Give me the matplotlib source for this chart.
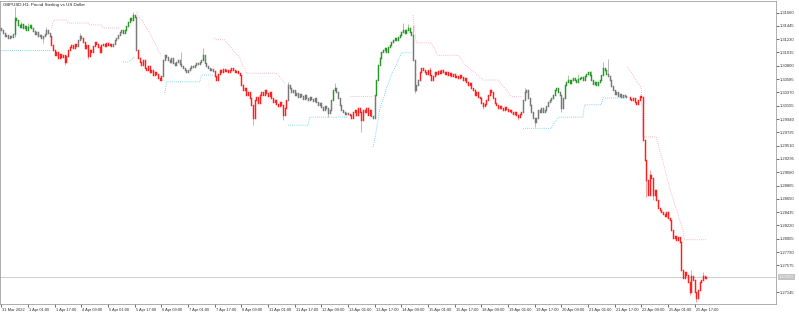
import matplotlib
matplotlib.use("Agg")
import matplotlib.pyplot as plt
import matplotlib.transforms as mtransforms
import numpy as np

title = "GBPUSD,H1: Pound Sterling vs US Dollar"

first_open = 1.3141
close_prices = [
    # 31 Mar
    1.3138, 1.3133, 1.3128, 1.3130, 1.3125, 1.3128, 1.3126, 1.3131,
    1.3157, 1.3154,
    1.3146, 1.3143, 1.3147, 1.3141, 1.3144, 1.3138, 1.3143, 1.3146, 1.3141,
    1.3136, 1.3131, 1.3135, 1.3128, 1.3130, 1.3125, 1.3128, 1.3131, 1.3138, 1.3133, 1.3128,
    # 1 Apr
    1.3114, 1.3105, 1.3097, 1.3102, 1.3093, 1.3099, 1.3094, 1.3097, 1.3086, 1.3096,
    1.3105, 1.3110, 1.3114, 1.3109, 1.3115, 1.3112, 1.3122, 1.3128, 1.3125, 1.3118,
    1.3109, 1.3114, 1.3096, 1.3105, 1.3102, 1.3112, 1.3118, 1.3115, 1.3110, 1.3102,
    1.3114, 1.3115, 1.3112, 1.3117, 1.3114, 1.3115, 1.3112,
    1.3115, 1.3122, 1.3125, 1.3130, 1.3135, 1.3138,
    1.3133, 1.3138, 1.3144, 1.3151, 1.3157, 1.3154, 1.3162, 1.3159,
    1.3105,
    # 5 Apr
    1.3093, 1.3086, 1.3081, 1.3089, 1.3076, 1.3073, 1.3080, 1.3070, 1.3073, 1.3065,
    1.3070, 1.3067, 1.3060, 1.3057, 1.3063,
    1.3089, 1.3097, 1.3094, 1.3089, 1.3086, 1.3093, 1.3084, 1.3081, 1.3086, 1.3089,
    1.3083, 1.3080, 1.3076, 1.3073, 1.3070, 1.3073, 1.3076, 1.3080, 1.3078, 1.3081,
    1.3084, 1.3083, 1.3086, 1.3089, 1.3097, 1.3084, 1.3080, 1.3076, 1.3073, 1.3075, 1.3072,
    # 7 Apr
    1.3063, 1.3057, 1.3067, 1.3073, 1.3070, 1.3075, 1.3072, 1.3073, 1.3070, 1.3073,
    1.3076, 1.3073, 1.3070, 1.3072, 1.3068, 1.3065, 1.3049, 1.3041, 1.3044, 1.3033,
    1.3038, 1.3028, 1.3017, 1.2996, 1.3025, 1.3030, 1.3020, 1.3033, 1.3038, 1.3033,
    1.3041, 1.3036, 1.3031, 1.3038, 1.3028, 1.3021, 1.3025, 1.3018, 1.3015, 1.3021,
    1.3017, 1.3000, 1.3012, 1.3025,
    # 11 Apr
    1.3049, 1.3044, 1.3038, 1.3041, 1.3033, 1.3036, 1.3030, 1.3034, 1.3031, 1.3026,
    1.3033, 1.3028, 1.3025, 1.3030, 1.3026, 1.3023, 1.3028, 1.3021, 1.3017, 1.3020,
    1.3013, 1.3009, 1.3015, 1.3012, 1.3004, 1.3009, 1.3025, 1.3041, 1.3044, 1.3038,
    1.3028, 1.3017, 1.3009, 1.3005, 1.3002, 1.3004, 1.3002,
    1.3000, 1.2996, 1.3005, 1.3009, 1.3000, 1.3012, 1.3005, 1.2992, 1.3009, 1.3005,
    1.3012, 1.3000, 1.3009, 1.2999, 1.2996,
    # 13 Apr
    1.3033, 1.3057, 1.3081, 1.3093, 1.3102, 1.3105, 1.3109, 1.3102, 1.3110, 1.3114,
    1.3118, 1.3122, 1.3125, 1.3122, 1.3126, 1.3130, 1.3135, 1.3138, 1.3133, 1.3138,
    1.3141, 1.3135, 1.3130,
    1.3089, 1.3041, 1.3049, 1.3057,
    # 14 Apr
    1.3070, 1.3076, 1.3073, 1.3070, 1.3067, 1.3073, 1.3065, 1.3057, 1.3063, 1.3070,
    1.3067, 1.3072, 1.3068, 1.3073, 1.3070, 1.3067, 1.3070, 1.3065, 1.3068, 1.3063,
    1.3067, 1.3062, 1.3063, 1.3060, 1.3065, 1.3062, 1.3057, 1.3060, 1.3054, 1.3049,
    1.3052, 1.3044, 1.3041, 1.3033, 1.3038, 1.3030, 1.3028, 1.3020, 1.3015, 1.3018,
    1.3025, 1.3033, 1.3041, 1.3038, 1.3028, 1.3020, 1.3017, 1.3012, 1.3015, 1.3012,
    1.3009, 1.3013, 1.3010, 1.3007, 1.3009, 1.3005, 1.3002, 1.3005, 1.3000, 1.2997,
    1.3002, 1.3005,
    # 19 Apr
    1.3025, 1.3038, 1.3041, 1.3028, 1.3017, 1.3005, 1.2996, 1.2989, 1.2996, 1.3009,
    1.3005, 1.3012, 1.3005, 1.3009, 1.3015, 1.3021, 1.3025, 1.3028,
    1.3033, 1.3041, 1.3044, 1.3038, 1.3033, 1.3012, 1.3028, 1.3049, 1.3054, 1.3057,
    1.3052, 1.3057, 1.3060, 1.3057, 1.3054, 1.3059, 1.3060, 1.3062, 1.3057, 1.3063,
    1.3067, 1.3070, 1.3065, 1.3057, 1.3051, 1.3054, 1.3049, 1.3054, 1.3057, 1.3065,
    1.3076, 1.3073, 1.3067, 1.3063, 1.3057, 1.3047, 1.3041, 1.3034, 1.3038, 1.3031,
    1.3034, 1.3030, 1.3033, 1.3031, 1.3030,
    # 21 Apr 19:00 onwards
    1.3030, 1.3026, 1.3025, 1.3028, 1.3021, 1.3018, 1.3025, 1.3031, 1.3030, 1.2960,
    1.2928, 1.2895, 1.2871, 1.2904, 1.2899, 1.2871, 1.2879, 1.2863, 1.2850, 1.2847,
    1.2844, 1.2841, 1.2837, 1.2844, 1.2834, 1.2831, 1.2815, 1.2802, 1.2805, 1.2799,
    1.2803, 1.2795, 1.2750, 1.2737, 1.2747, 1.2742, 1.2731, 1.2715, 1.2740, 1.2734,
    1.2715, 1.2705, 1.2718, 1.2731, 1.2734, 1.2740, 1.2737, 1.2739,
]

# (colour state, number of bars)
color_runs = [
    ("gray", 8), ("green", 11), ("gray", 11), ("red", 16), ("gray", 3), ("red", 18),
    ("gray", 6), ("green", 8), ("gray", 1), ("red", 15), ("gray", 24), ("green", 1),
    ("gray", 6), ("red", 44), ("gray", 27), ("green", 2), ("gray", 8), ("red", 13),
    ("gray", 3), ("green", 22), ("gray", 4), ("red", 62), ("gray", 18), ("green", 4),
    ("gray", 3), ("green", 26), ("gray", 12), ("red", 48),
]

high_wicks = {8: 1.3175, 12: 1.3151, 16: 1.3149, 27: 1.3142, 47: 1.3133, 79: 1.3167,
              108: 1.3102, 121: 1.3109, 172: 1.3054, 200: 1.3052, 241: 1.3149,
              244: 1.3147, 247: 1.3146, 257: 1.3078, 314: 1.3044, 340: 1.3065,
              346: 1.3067, 354: 1.3072, 361: 1.3086, 364: 1.3091, 389: 1.2912,
              400: 1.2846, 414: 1.2750, 421: 1.2747}
low_wicks = {8: 1.3126, 25: 1.3117, 38: 1.3081, 52: 1.3091, 151: 1.2984, 169: 1.2992,
             196: 1.2997, 216: 1.2973, 248: 1.3036, 289: 1.3010, 310: 1.2992,
             320: 1.2981, 336: 1.3005, 387: 1.2868, 391: 1.2863, 413: 1.2710,
             417: 1.2698}

# trailing stop lines: (first bar, values)
upper_stop_runs = [
    (30, [1.3141, 1.3151] + [1.3154] * 8 + [1.3149] * 13 + [1.3146] * 8 + [1.3141] * 11),
    (81, [1.3167, 1.3162, 1.3157, 1.3154, 1.3151, 1.3146, 1.3141, 1.3138, 1.3133, 1.3128,
          1.3122, 1.3117, 1.3112, 1.3105, 1.3101, 1.3097]),
    (128, [1.3125] + [1.3122] * 6 + [1.3118, 1.3115, 1.3112, 1.3109, 1.3105, 1.3102, 1.3099,
           1.3096, 1.3093, 1.3086, 1.3080, 1.3076] + [1.3068] * 19
          + [1.3065, 1.3062, 1.3059, 1.3055, 1.3052, 1.3052]),
    (209, [1.3031] * 15),
    (247, [1.3162, 1.3138] + [1.3117] * 10 + [1.3112, 1.3107, 1.3102, 1.3097] + [1.3097] * 12
          + [1.3094, 1.3091, 1.3086, 1.3081]
          + [1.3080, 1.3078, 1.3076, 1.3073, 1.3072, 1.3070, 1.3067, 1.3065, 1.3062, 1.3060, 1.3057]
          + [1.3057] * 9
          + [1.3054, 1.3051, 1.3047, 1.3044, 1.3041, 1.3038, 1.3034, 1.3031, 1.3030] + [1.3030] * 5),
    (376, [1.3078, 1.3073, 1.3070, 1.3065, 1.3060, 1.3057, 1.3052, 1.3049, 1.3044]
          + [1.2965] * 9
          + [1.2955, 1.2944, 1.2934, 1.2925, 1.2915, 1.2904, 1.2894, 1.2884]
          + [1.2874, 1.2866, 1.2857, 1.2849, 1.2841, 1.2831, 1.2823, 1.2815]
          + [1.2799] * 14),
]
lower_stop_runs = [
    (0, [1.3105] * 30),
    (73, [1.3086] * 4 + [1.3089, 1.3089, 1.3093, 1.3094]),
    (98, [1.3036] + [1.3054] * 21 + [1.3065] * 8),
    (172, [1.2984] * 13 + [1.2997] * 24),
    (223, [1.2949, 1.2960, 1.2976, 1.2992, 1.3009, 1.3017, 1.3025, 1.3033, 1.3044, 1.3049,
           1.3057, 1.3065, 1.3070, 1.3076, 1.3081, 1.3089, 1.3093] + [1.3101] * 7),
    (313, [1.2979] * 18 + [1.2984, 1.2989, 1.2992, 1.2996] + [1.2997] * 15
          + [1.3017] * 11 + [1.3028] * 15),
]

date_labels = ["31 Mar 2022", "1 Apr 01:00", "1 Apr 17:00", "4 Apr 09:00", "5 Apr 01:00",
               "5 Apr 17:00", "6 Apr 09:00", "7 Apr 01:00", "7 Apr 17:00", "8 Apr 09:00",
               "11 Apr 01:00", "11 Apr 17:00", "12 Apr 09:00", "13 Apr 01:00", "13 Apr 17:00",
               "14 Apr 09:00", "15 Apr 01:00", "15 Apr 17:00", "18 Apr 09:00", "19 Apr 01:00",
               "19 Apr 17:00", "20 Apr 09:00", "21 Apr 01:00", "21 Apr 17:00", "22 Apr 09:00",
               "25 Apr 01:00", "25 Apr 17:00"]
bars_per_label = 16
price_ticks = [1.31660, 1.31445, 1.31230, 1.31015, 1.30800, 1.30585, 1.30370, 1.30155,
               1.29940, 1.29725, 1.29510, 1.29295, 1.29080, 1.28865, 1.28650, 1.28435,
               1.28220, 1.28005, 1.27790, 1.27575, 1.27145]

# ---------------------------------------------------------------
palette = {"green": "#2a962a", "gray": "#787878", "red": "#ff1f1f"}
wick_palette = {"green": "#86c986", "gray": "#b0b0b0", "red": "#ff9090"}

closes = np.array(close_prices)
n = len(closes)
opens = np.concatenate([[first_open], closes[:-1]])
states = []
for name, cnt in color_runs:
    states += [name] * cnt
states = states[:n]
highs = np.maximum(opens, closes)
lows = np.minimum(opens, closes)
for k, v in high_wicks.items():
    highs[k] = max(highs[k], v)
for k, v in low_wicks.items():
    lows[k] = min(lows[k], v)
idx = np.arange(n)

plt.rcParams['font.family'] = ['Liberation Sans', 'DejaVu Sans']
fig = plt.figure(figsize=(7.99, 3.14), dpi=100)
ax = fig.add_axes([0.0006, 10 / 314, 775.5 / 799, 303 / 314])
ax.set_facecolor("white")

for st in ("gray", "green", "red"):
    m = np.array([s == st for s in states])
    ax.vlines(idx[m], lows[m], highs[m], color=wick_palette[st], lw=0.6, zorder=2)
    lc = ax.vlines(idx[m], np.minimum(opens, closes)[m], np.maximum(opens, closes)[m],
                   color=palette[st], lw=1.05, zorder=3)
    lc.set_capstyle("projecting")

for start, vals in upper_stop_runs:
    ax.plot(np.arange(start, start + len(vals)), vals, linestyle=(0, (1, 1.5)),
            color="#ff9cbc", lw=0.6, zorder=1)
for start, vals in lower_stop_runs:
    ax.plot(np.arange(start, start + len(vals)), vals, linestyle=(0, (1, 1.5)),
            color="#55c8f5", lw=0.6, zorder=1)

last = closes[-1]
ax.axhline(last, color="#c8c8c8", lw=0.6, zorder=0)

ax.set_xlim(-0.6, 464.9)
ax.set_ylim(1.26952, 1.31846)

ax.yaxis.tick_right()
ax.set_yticks(price_ticks)
ax.set_yticklabels([f"{v:.5f}" for v in price_ticks])
ax.tick_params(axis="y", length=2, width=0.5, pad=1, labelsize=3, colors="#303030")
xt = np.arange(len(date_labels)) * bars_per_label
ax.set_xticks(xt)
ax.set_xticklabels(date_labels, ha="left")
ax.tick_params(axis="x", length=2, width=0.5, pad=1, labelsize=2.9, colors="#303030")
offset = mtransforms.ScaledTranslation(1 / 100, 0, fig.dpi_scale_trans)
for lab in ax.get_xticklabels():
    lab.set_transform(lab.get_transform() + offset)
for sp in ax.spines.values():
    sp.set_color("#a0a0a0")
    sp.set_linewidth(0.6)

ax.text(1.004, last, f"{last:.5f}", transform=mtransforms.blended_transform_factory(ax.transAxes, ax.transData),
        ha="left", va="center", fontsize=3, color="white",
        bbox=dict(boxstyle="square,pad=0.3", fc="#c4c4c4", ec="none"), clip_on=False)
ax.text(0.003, 0.993, title, transform=ax.transAxes, ha="left", va="top", fontsize=3.2, color="#202020")

fig.savefig("out.png", dpi=100)
